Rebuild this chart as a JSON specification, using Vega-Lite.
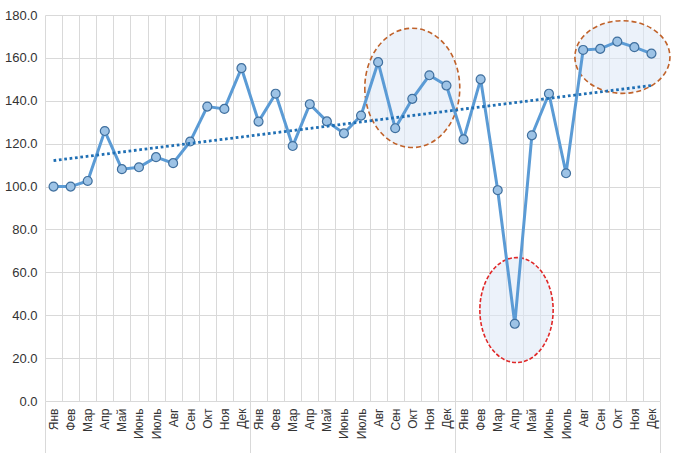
{
  "$schema": "https://vega.github.io/schema/vega-lite/v6.json",
  "width": 615,
  "height": 386,
  "autosize": "none",
  "padding": {"left": 45, "top": 15, "right": 20, "bottom": 52},
  "config": {
    "view": {"stroke": null},
    "font": "Liberation Sans",
    "axis": {"labelFont": "Liberation Sans", "labelColor": "#333333", "gridColor": "#d9d9d9", "gridWidth": 1}
  },
  "datasets": {
    "series": [
      {"t": 1, "month": "Янв", "value": 100.0},
      {"t": 2, "month": "Фев", "value": 100.0},
      {"t": 3, "month": "Мар", "value": 102.6},
      {"t": 4, "month": "Апр", "value": 125.9},
      {"t": 5, "month": "Май", "value": 108.1},
      {"t": 6, "month": "Июнь", "value": 109.0},
      {"t": 7, "month": "Июль", "value": 113.7},
      {"t": 8, "month": "Авг", "value": 110.9},
      {"t": 9, "month": "Сен", "value": 121.0},
      {"t": 10, "month": "Окт", "value": 137.3},
      {"t": 11, "month": "Ноя", "value": 136.2},
      {"t": 12, "month": "Дек", "value": 155.2},
      {"t": 13, "month": "Янв", "value": 130.3},
      {"t": 14, "month": "Фев", "value": 143.3},
      {"t": 15, "month": "Мар", "value": 118.9},
      {"t": 16, "month": "Апр", "value": 138.4},
      {"t": 17, "month": "Май", "value": 130.4},
      {"t": 18, "month": "Июнь", "value": 124.8},
      {"t": 19, "month": "Июль", "value": 133.1},
      {"t": 20, "month": "Авг", "value": 158.0},
      {"t": 21, "month": "Сен", "value": 127.2},
      {"t": 22, "month": "Окт", "value": 140.9},
      {"t": 23, "month": "Ноя", "value": 151.9},
      {"t": 24, "month": "Дек", "value": 147.1},
      {"t": 25, "month": "Янв", "value": 122.0},
      {"t": 26, "month": "Фев", "value": 150.0},
      {"t": 27, "month": "Мар", "value": 98.3},
      {"t": 28, "month": "Апр", "value": 36.0},
      {"t": 29, "month": "Май", "value": 123.9},
      {"t": 30, "month": "Июнь", "value": 143.3},
      {"t": 31, "month": "Июль", "value": 106.2},
      {"t": 32, "month": "Авг", "value": 163.7},
      {"t": 33, "month": "Сен", "value": 164.2},
      {"t": 34, "month": "Окт", "value": 167.6},
      {"t": 35, "month": "Ноя", "value": 165.0},
      {"t": 36, "month": "Дек", "value": 162.0}
    ],
    "highlights": [
      {"kind": "a", "t": 22, "value": 146.0},
      {"kind": "b", "t": 34.3, "value": 160.4},
      {"kind": "c", "t": 28.1, "value": 42.4}
    ]
  },
  "resolve": {"axis": {"x": "independent"}},
  "encoding": {
    "x": {"field": "t", "type": "quantitative", "scale": {"domain": [0.5, 36.5], "nice": false, "zero": false}},
    "y": {"field": "value", "type": "quantitative", "scale": {"domain": [0, 180], "nice": false, "zero": true}, "axis": {"values": [0,20,40,60,80,100,120,140,160,180], "format": ".1f", "grid": true, "domain": false, "ticks": false, "labelPadding": 8, "labelFontSize": 13, "title": null, "orient": "left"}}
  },
  "layer": [
    {
      "data": {"name": "highlights"},
      "transform": [{"filter": "datum.kind === 'a'"}],
      "mark": {"type": "point", "shape": "M -0.796 0 A 0.796 1 0 1 0 0.796 0 A 0.796 1 0 1 0 -0.796 0 Z", "size": 14233, "filled": true, "fill": "#dce8f5", "fillOpacity": 0.55, "stroke": "#c0622a", "strokeOpacity": 1, "strokeWidth": 1.6, "strokeDash": [5, 3], "opacity": 1},
      "encoding": {
        "x": {"field": "t", "type": "quantitative", "axis": null}
      }
    },
    {
      "data": {"name": "highlights"},
      "transform": [{"filter": "datum.kind === 'b'"}],
      "mark": {"type": "point", "shape": "M -1 0 A 1 0.765 0 1 0 1 0 A 1 0.765 0 1 0 -1 0 Z", "size": 9025, "filled": true, "fill": "#dce8f5", "fillOpacity": 0.55, "stroke": "#c0622a", "strokeOpacity": 1, "strokeWidth": 1.6, "strokeDash": [5, 3], "opacity": 1},
      "encoding": {
        "x": {"field": "t", "type": "quantitative", "axis": null}
      }
    },
    {
      "data": {"name": "highlights"},
      "transform": [{"filter": "datum.kind === 'c'"}],
      "mark": {"type": "point", "shape": "M -0.698 0 A 0.698 1 0 1 0 0.698 0 A 0.698 1 0 1 0 -0.698 0 Z", "size": 11025, "filled": true, "fill": "#dce8f5", "fillOpacity": 0.55, "stroke": "#e02828", "strokeOpacity": 1, "strokeWidth": 1.6, "strokeDash": [4, 2], "opacity": 1},
      "encoding": {
        "x": {"field": "t", "type": "quantitative", "axis": null}
      }
    },
    {
      "data": {"name": "series"},
      "mark": {"type": "line", "color": "#5b9bd5", "strokeWidth": 3},
      "encoding": {
        "x": {"field": "t", "type": "quantitative", "axis": {"orient": "bottom", "values": [0.5,1.5,2.5,3.5,4.5,5.5,6.5,7.5,8.5,9.5,10.5,11.5,12.5,13.5,14.5,15.5,16.5,17.5,18.5,19.5,20.5,21.5,22.5,23.5,24.5,25.5,26.5,27.5,28.5,29.5,30.5,31.5,32.5,33.5,34.5,35.5,36.5], "grid": true, "labels": false, "ticks": false, "domain": false, "title": null}}
      }
    },
    {
      "data": {"name": "series"},
      "mark": {"type": "point", "filled": true, "fill": "#9dc3e6", "stroke": "#3f6f9e", "strokeWidth": 1.2, "size": 80, "opacity": 1},
      "encoding": {
        "x": {"field": "t", "type": "quantitative", "axis": {"orient": "bottom", "values": [1,2,3,4,5,6,7,8,9,10,11,12,13,14,15,16,17,18,19,20,21,22,23,24,25,26,27,28,29,30,31,32,33,34,35,36], "labelExpr": "['Янв','Фев','Мар','Апр','Май','Июнь','Июль','Авг','Сен','Окт','Ноя','Дек'][(datum.value - 1) % 12]", "labelAngle": -90, "labelFontSize": 12, "labelPadding": 7, "grid": false, "ticks": false, "domain": false, "title": null, "labelOverlap": false}}
      }
    },
    {
      "data": {"name": "series"},
      "transform": [{"regression": "value", "on": "t"}],
      "mark": {"type": "line", "color": "#1f6fb4", "strokeWidth": 2.8, "strokeDash": [2.7, 2.7]},
      "encoding": {
        "x": {"field": "t", "type": "quantitative", "axis": {"orient": "bottom", "values": [0.5, 12.5, 24.5, 36.5], "grid": false, "labels": false, "ticks": true, "tickSize": 52, "tickColor": "#d9d9d9", "tickWidth": 1, "domain": false, "title": null}}
      }
    }
  ]
}
